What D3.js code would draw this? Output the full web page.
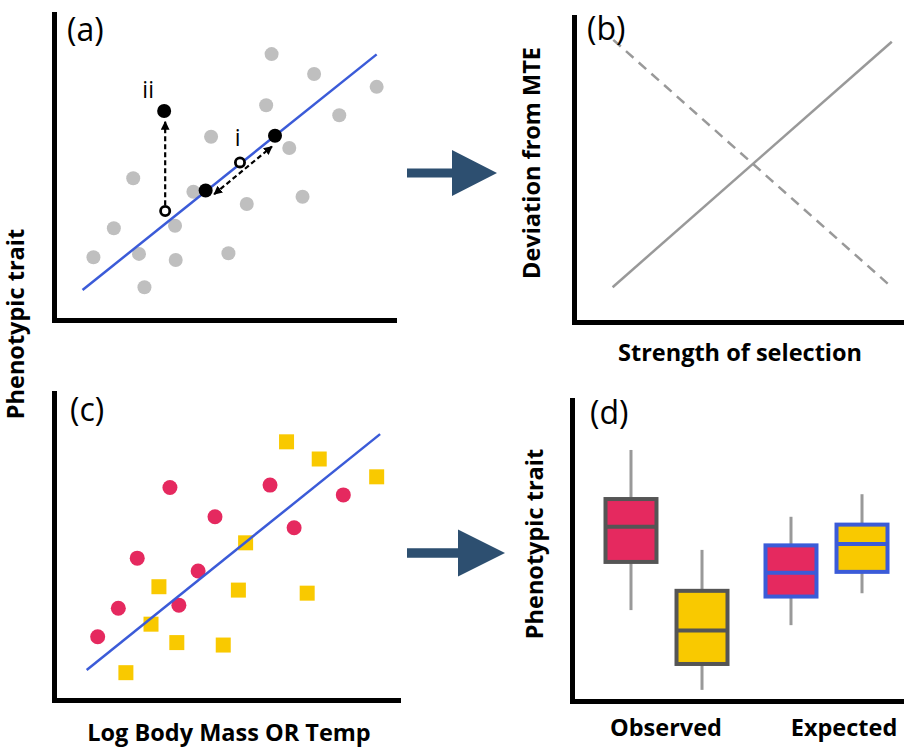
<!DOCTYPE html>
<html>
<head>
<meta charset="utf-8">
<script src="https://cdn.jsdelivr.net/npm/d3@7"></script>
<style>
  body { margin: 0; background: #fff; }
  text { font-family: "Open Sans", Lato, sans-serif; }
</style>
</head>
<body>
<div id="viz"></div>
<script>
// ---- data (all in 0-10 panel units) ----
// (a) background points
let grayX = [6.40, 7.65, 9.49, 6.24, 8.39, 4.62, 6.92, 2.33, 4.10, 5.67, 7.31, 1.76, 3.56, 1.16, 2.50, 3.58, 5.13, 2.66];
let grayY = [8.69, 8.04, 7.62, 7.02, 6.69, 5.99, 5.62, 4.63, 4.19, 3.79, 4.03, 3.00, 3.08, 2.05, 2.16, 1.96, 2.18, 1.07];
let fitA = [[0.84, 0.98], [9.49, 8.68]];
let filledX = [3.24, 4.46, 6.50];
let filledY = [6.83, 4.23, 6.02];
let openX = [3.27, 5.47];
let openY = [3.56, 5.15];
let arrowUp = [[3.27, 3.75], [3.27, 6.48]];
let arrowBoth = [[4.71, 4.11], [6.41, 5.67]];
let aLabels = ['ii', 'i'];
let aLabelX = [2.77, 5.40];
let aLabelY = [7.25, 5.70];

// (b) deviation vs selection
let solidB = [[1.17, 1.14], [9.63, 9.19]];
let dashedB = [[1.19, 9.25], [9.63, 1.14]];

// (c) two groups
let pinkX = [3.37, 4.68, 6.28, 8.41, 6.98, 2.42, 4.19, 3.63, 1.87, 1.27];
let pinkY = [6.92, 5.97, 7.00, 6.68, 5.61, 4.62, 4.20, 3.09, 2.99, 2.06];
let yellowX = [6.76, 7.71, 9.38, 5.57, 3.05, 5.36, 7.36, 2.82, 3.57, 4.92, 2.09];
let yellowY = [8.41, 7.85, 7.27, 5.12, 3.69, 3.58, 3.48, 2.47, 1.87, 1.79, 0.89];
let fitC = [[0.95, 0.98], [9.48, 8.66]];

// (d) boxes
let groups = ['Observed', 'Expected'];
let kinds = ['pink', 'yellow'];
let boxGroup = ['Observed', 'Observed', 'Expected', 'Expected'];
let boxKind  = ['pink', 'yellow', 'pink', 'yellow'];
let whiskHi = [8.34, 5.02, 6.12, 6.87];
let q3      = [6.71, 3.66, 5.17, 5.86];
let median  = [5.79, 2.34, 4.26, 5.22];
let q1      = [4.62, 1.23, 3.47, 4.29];
let whiskLo = [3.02, 0.37, 2.52, 3.58];

let pink = '#e5295f', yellow = '#f9c900', blue = '#3b5bd8', grey = '#bfbfbf';
let arrowCol = '#2d4f70';
let labelSize = 23.5;

let svg = d3.select('#viz').append('svg')
  .attr('width', 904).attr('height', 748);

let defs = svg.append('defs');
defs.append('marker')
  .attr('id', 'head')
  .attr('viewBox', '0 0 10 10')
  .attr('refX', 9).attr('refY', 5)
  .attr('markerWidth', 4).attr('markerHeight', 4)
  .attr('orient', 'auto-start-reverse')
  .append('path').attr('d', 'M0,0L10,5L0,10z').attr('fill', '#000');

// helper: draw the two thick axis lines
function axes(g, x, y) {
  g.append('g')
    .attr('transform', 'translate(0,' + y.range()[0] + ')')
    .call(d3.axisBottom(x).ticks(0).tickSizeOuter(0))
    .call(a => a.select('.domain').attr('stroke-width', 5).attr('stroke-linecap', 'square'));
  g.append('g')
    .attr('transform', 'translate(' + x.range()[0] + ',0)')
    .call(d3.axisLeft(y).ticks(0).tickSizeOuter(0))
    .call(a => a.select('.domain').attr('stroke-width', 5).attr('stroke-linecap', 'square'));
}

function panelTag(txt, x, y) {
  svg.append('text').attr('x', x).attr('y', y)
    .attr('font-size', 32).text(txt);
}

function boldLabel(txt, x, y, rotate) {
  svg.append('text')
    .attr('transform', 'translate(' + x + ',' + y + ')' + (rotate ? ' rotate(-90)' : ''))
    .attr('text-anchor', 'middle')
    .attr('font-size', labelSize).attr('font-weight', 'bold')
    .text(txt);
}

let line = (x, y) => d3.line().x(d => x(d[0])).y(d => y(d[1]));

// ---------- panel (a) ----------
let xa = d3.scaleLinear().domain([0, 10]).range([54, 394]);
let ya = d3.scaleLinear().domain([0, 10]).range([320, 14]);
let ga = svg.append('g');
axes(ga, xa, ya);

ga.selectAll('.gray').data(d3.range(grayX.length)).enter()
  .append('circle')
    .attr('cx', i => xa(grayX[i]))
    .attr('cy', i => ya(grayY[i]))
    .attr('r', 7)
    .attr('fill', grey);

ga.append('path').datum(fitA)
  .attr('d', line(xa, ya))
  .attr('stroke', blue).attr('stroke-width', 2.5).attr('fill', 'none');

ga.append('path').datum(arrowUp)
  .attr('d', line(xa, ya))
  .attr('stroke', '#000').attr('stroke-width', 2.2).attr('stroke-dasharray', '5,3')
  .attr('fill', 'none').attr('marker-end', 'url(#head)');

ga.append('path').datum(arrowBoth)
  .attr('d', line(xa, ya))
  .attr('stroke', '#000').attr('stroke-width', 2.2).attr('stroke-dasharray', '5,3')
  .attr('fill', 'none').attr('marker-end', 'url(#head)').attr('marker-start', 'url(#head)');

ga.selectAll('.filled').data(d3.range(filledX.length)).enter()
  .append('circle')
    .attr('cx', i => xa(filledX[i]))
    .attr('cy', i => ya(filledY[i]))
    .attr('r', 7)
    .attr('fill', '#000');

ga.selectAll('.open').data(d3.range(openX.length)).enter()
  .append('circle')
    .attr('cx', i => xa(openX[i]))
    .attr('cy', i => ya(openY[i]))
    .attr('r', 4.6)
    .attr('fill', '#fff').attr('stroke', '#000').attr('stroke-width', 2.8);

ga.selectAll('.alab').data(aLabels).enter()
  .append('text')
    .attr('x', (d, i) => xa(aLabelX[i]))
    .attr('y', (d, i) => ya(aLabelY[i]))
    .attr('text-anchor', 'middle')
    .attr('font-size', 23)
    .text(d => d);

panelTag('(a)', 67, 41);

// ---------- panel (b) ----------
let xb = d3.scaleLinear().domain([0, 10]).range([574, 904]);
let yb = d3.scaleLinear().domain([0, 10]).range([322, 17]);
let gb = svg.append('g');
axes(gb, xb, yb);

gb.append('path').datum(solidB)
  .attr('d', line(xb, yb))
  .attr('stroke', '#999').attr('stroke-width', 2.5).attr('fill', 'none');
gb.append('path').datum(dashedB)
  .attr('d', line(xb, yb))
  .attr('stroke', '#999').attr('stroke-width', 2.5).attr('stroke-dasharray', '10,7').attr('fill', 'none');

panelTag('(b)', 587, 40);

boldLabel('Deviation from MTE', 540, 163, true);
boldLabel('Strength of selection', 740, 361, false);

// ---------- panel (c) ----------
let xc = d3.scaleLinear().domain([0, 10]).range([54, 398]);
let yc = d3.scaleLinear().domain([0, 10]).range([700, 393]);
let gc = svg.append('g');
axes(gc, xc, yc);

gc.selectAll('.pink').data(d3.range(pinkX.length)).enter()
  .append('circle')
    .attr('cx', i => xc(pinkX[i]))
    .attr('cy', i => yc(pinkY[i]))
    .attr('r', 7.5)
    .attr('fill', pink);

let sq = 15;
gc.selectAll('.yellow').data(d3.range(yellowX.length)).enter()
  .append('rect')
    .attr('x', i => xc(yellowX[i]) - sq / 2)
    .attr('y', i => yc(yellowY[i]) - sq / 2)
    .attr('width', sq).attr('height', sq)
    .attr('fill', yellow);

gc.append('path').datum(fitC)
  .attr('d', line(xc, yc))
  .attr('stroke', blue).attr('stroke-width', 2.5).attr('fill', 'none');

panelTag('(c)', 70, 421);

boldLabel('Log Body Mass OR Temp', 229, 741, false);

// shared y label for (a) and (c)
boldLabel('Phenotypic trait', 24, 324, true);

// ---------- panel (d) ----------
let xd = d3.scaleLinear().domain([0, 10]).range([572, 904]);
let yd = d3.scaleLinear().domain([0, 10]).range([701, 400]);
let gd = svg.append('g');
axes(gd, xd, yd);

let xg = d3.scaleBand().domain(groups).range([586, 906]);
let xk = d3.scaleBand().domain(kinds).range([19.5, 141.5]).paddingInner(0.282);
let fillOf = {pink: pink, yellow: yellow};

let boxes = gd.selectAll('.box').data(d3.range(boxKind.length)).enter()
  .append('g')
    .attr('transform', i => 'translate(' + (xg(boxGroup[i]) + xk(boxKind[i])) + ',0)');

let bw = xk.bandwidth();
boxes.append('line')
  .attr('x1', bw / 2).attr('x2', bw / 2)
  .attr('y1', i => yd(whiskHi[i])).attr('y2', i => yd(whiskLo[i]))
  .attr('stroke', '#999').attr('stroke-width', 3);
boxes.append('rect')
  .attr('x', 0).attr('width', bw)
  .attr('y', i => yd(q3[i]))
  .attr('height', i => yd(q1[i]) - yd(q3[i]))
  .attr('fill', i => fillOf[boxKind[i]])
  .attr('stroke', i => boxGroup[i] === 'Observed' ? '#555' : blue)
  .attr('stroke-width', 4);
boxes.append('line')
  .attr('x1', 0).attr('x2', bw)
  .attr('y1', i => yd(median[i])).attr('y2', i => yd(median[i]))
  .attr('stroke', i => boxGroup[i] === 'Observed' ? '#555' : blue)
  .attr('stroke-width', 4);

gd.selectAll('.glab').data(groups).enter()
  .append('text')
    .attr('x', d => xg(d) + xg.bandwidth() / 2)
    .attr('dx', d => d === 'Expected' ? 18 : 0)
    .attr('y', 736)
    .attr('text-anchor', 'middle')
    .attr('font-size', labelSize).attr('font-weight', 'bold')
    .text(d => d);

boldLabel('Phenotypic trait', 543, 544, true);

panelTag('(d)', 590, 424);

// ---------- connecting arrows ----------
function bigArrow(x0, yc0, shaftEnd, tip, half, shaftHalf) {
  svg.append('path')
    .attr('d', 'M' + x0 + ',' + (yc0 - shaftHalf) + 'L' + shaftEnd + ',' + (yc0 - shaftHalf) +
      'L' + shaftEnd + ',' + (yc0 - half) + 'L' + tip + ',' + yc0 +
      'L' + shaftEnd + ',' + (yc0 + half) + 'L' + shaftEnd + ',' + (yc0 + shaftHalf) +
      'L' + x0 + ',' + (yc0 + shaftHalf) + 'Z')
    .attr('fill', arrowCol);
}
bigArrow(407, 173, 452, 497, 23, 4.5);
bigArrow(407, 553, 458, 505, 23.5, 4.7);
</script>
</body>
</html>
